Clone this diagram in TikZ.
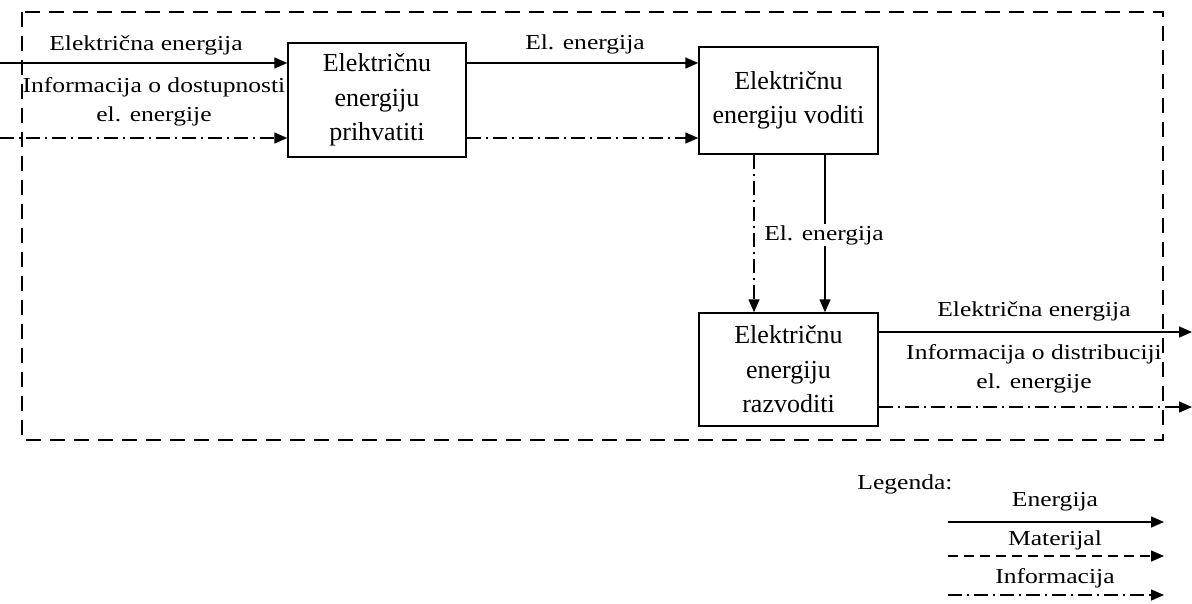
\documentclass[tikz,border=0pt]{standalone}
\usepackage{fontspec}
\setmainfont{Liberation Serif}
\newfontfamily\lblfont[FakeStretch=1.2]{Liberation Serif}
\usetikzlibrary{arrows.meta}
\begin{document}
\begin{tikzpicture}[x=1pt,y=-1pt,
  every path/.style={line width=1.5pt},
  tip/.style={-{Triangle[length=13pt,width=11pt]}},
  energy/.style={tip},
  info/.style={tip,dash pattern=on 14pt off 5pt on 2pt off 5pt},
  material/.style={tip,dash pattern=on 10pt off 6pt},
  frame/.style={dash pattern=on 15pt off 9pt},
  fnbox/.style={draw,line width=1.5pt,inner sep=0pt,align=center,font=\fontsize{26}{34.5}\selectfont},
  lbl/.style={inner sep=1pt,align=center,font=\lblfont\fontsize{21.3}{29}\selectfont}]
\useasboundingbox (0,0) rectangle (1192,603);
% outer frame
\draw[frame] (22,12) rectangle (1163,440);
% function boxes
\node[fnbox,minimum width=178pt,minimum height=114pt] (b1) at (377,100) {Električnu\\energiju\\prihvatiti};
\node[fnbox,minimum width=179pt,minimum height=107pt] (b2) at (788.5,100.5) {Električnu\\energiju voditi};
\node[fnbox,minimum width=179pt,minimum height=113pt] (b3) at (788.5,369.5) {Električnu\\energiju\\razvoditi};
% free ends
\coordinate (inE) at (0,63);
\coordinate (inI) at (0,138);
\coordinate (outE) at (1192,332);
\coordinate (outI) at (1192,407);
% inputs
\draw[energy] (inE) -- (inE -| b1.west);
\draw[info] (inI) -- (inI -| b1.west);
\node[lbl] (l1) at (146,45) {Električna energija};
\node[lbl] (l2) at (154,102) {Informacija o dostupnosti\\el. energije};
% b1 -> b2
\draw[energy] (b1.east |- 0,63) -- (b2.west |- 0,63);
\draw[info] (b1.east |- 0,138) -- (b2.west |- 0,138);
\node[lbl] (l3) at (585,44) {El. energija};
% b2 -> b3
\draw[info] (754,0 |- b2.south) -- (754,0 |- b3.north);
\draw[energy] (825,0 |- b2.south) -- (825,0 |- b3.north);
\node[lbl,fill=white] (l4) at (824,235) {El. energija};
% outputs
\draw[energy] (b3.east |- outE) -- (outE);
\draw[info] (b3.east |- outI) -- (outI);
\node[lbl] (l5) at (1034,311) {Električna energija};
\node[lbl] (l6) at (1034,369) {Informacija o distribuciji\\el. energije};
% legend
\node[lbl] (lg) at (905,484) {Legenda:};
\coordinate (le1) at (948,522);
\coordinate (le2) at (1164,522);
\coordinate (lm1) at (948,556);
\coordinate (lm2) at (1164,556);
\coordinate (li1) at (948,595);
\coordinate (li2) at (1164,595);
\draw[energy] (le1) -- (le2);
\draw[material] (lm1) -- (lm2);
\draw[info] (li1) -- (li2);
\node[lbl] (lge) at (1055,502) {Energija};
\node[lbl] (lgm) at (1055,540) {Materijal};
\node[lbl] (lgi) at (1055,578) {Informacija};
\end{tikzpicture}
\end{document}
